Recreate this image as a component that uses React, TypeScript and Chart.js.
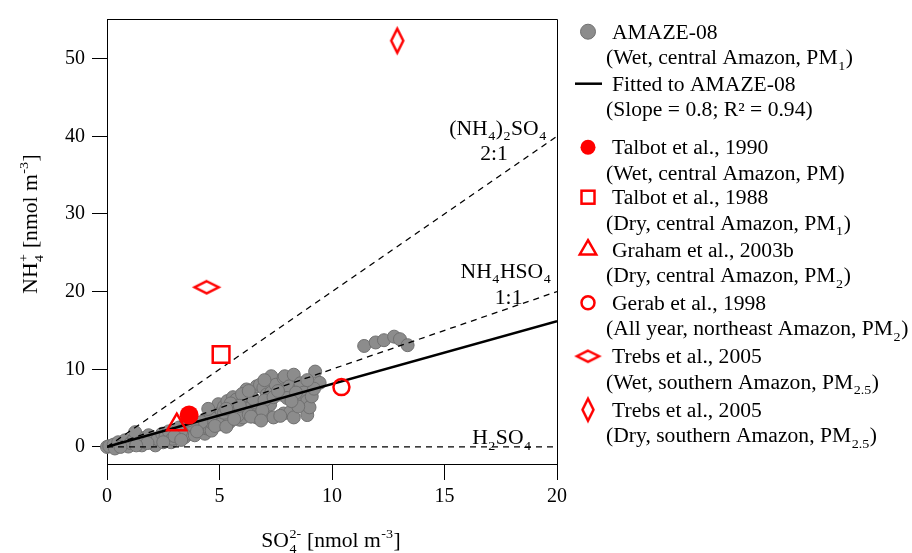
import React, { useEffect, useRef } from "react";
import { Chart, registerables } from "chart.js";

Chart.register(...registerables);

// ---------------- DATA ----------------
const amazeX = [
  0, 0.1, 0.3, 0.35, 0.5, 0.7, 0.8, 0.95, 1.05, 1.2, 1.25, 1.45, 1.55, 1.7, 1.85, 2.0, 2.15, 2.25, 2.45, 2.6,
  2.75, 2.85, 2.9, 3.1, 3.2, 3.45, 3.5, 3.7, 3.9, 3.95, 4.1, 4.35, 4.4, 4.35, 4.55, 4.65, 4.7, 4.8, 4.85, 4.95,
  5.0, 5.0, 5.1, 5.2, 5.35, 5.45, 5.45, 5.5, 5.6, 5.6, 5.75, 5.75, 5.9, 6.05, 6.05, 6.05, 6.15, 6.2, 6.35, 6.4,
  6.65, 6.65, 6.65, 6.65, 6.8, 6.95, 6.95, 7.1, 7.1, 7.25, 7.3, 7.3, 7.4, 7.5, 7.7, 7.85, 7.85, 7.9, 8.1, 8.15,
  8.3, 8.3, 8.55, 8.6, 8.6, 8.75, 8.9, 8.9, 9.0, 9.25, 9.45,
  5.2, 5.8, 6.3, 6.5, 7.0, 7.4, 8.0, 8.4, 6.0, 5.5, 6.9, 7.7, 8.5, 9.1, 9.2, 8.9, 7.0, 6.3, 5.9, 5.3,
  4.6, 4.2, 3.8, 3.3, 3.0, 2.5, 1.8, 1.3, 0.6, 3.3, 4.0, 4.8, 5.3, 6.4, 7.6, 8.2, 5.65, 6.85, 4.5, 3.6,
  11.43, 11.94, 12.31, 12.76, 13.02, 13.36,
];
const amazeY = [
  0, 0.1, 0.3, -0.2, 0.6, 0.2, 0.85, 0.05, 0.5, 1.05, 1.9, 0.55, 0.2, 1.2, 1.5, 0.7, 0.2, 1.0, 1.7, 1.35,
  2.0, 0.6, 1.05, 1.7, 2.5, 1.25, 2.2, 1.7, 1.5, 2.6, 2.75, 1.7, 2.4, 3.4, 2.3, 2.1, 3.0, 3.4, 4.2, 5.5,
  4.0, 2.9, 4.6, 5.2, 5.9, 3.2, 3.8, 4.5, 4.6, 6.4, 5.0, 6.1, 3.5, 3.8, 4.6, 5.9, 5.0, 7.4, 5.0, 6.6,
  3.8, 5.45, 5.7, 7.8, 8.0, 5.2, 7.6, 4.2, 6.75, 5.45, 7.0, 9.1, 3.8, 8.0, 6.75, 4.3, 8.9, 9.1, 7.8, 4.5,
  3.8, 9.3, 7.6, 8.2, 6.5, 7.0, 4.1, 5.9, 5.1, 9.7, 8.25,
  4.4, 4.0, 4.2, 6.2, 6.0, 6.4, 6.3, 7.0, 6.8, 5.6, 4.7, 4.0, 5.2, 6.5, 7.5, 8.6, 8.6, 7.2, 5.3, 4.9,
  3.8, 3.2, 2.8, 2.0, 1.4, 0.6, 0.5, 0.2, 0.0, 0.9, 2.0, 2.7, 2.6, 3.9, 7.2, 5.9, 3.6, 3.4, 4.9, 3.4,
  13.0, 13.45, 13.74, 14.2, 13.87, 13.1,
];

const talbot1990 = { x: [3.65], y: [4.1] };
const talbot1988 = { x: [5.07], y: [11.9] };
const graham2003 = { x: [3.1], y: [2.86] };
const gerab1998 = { x: [10.42], y: [7.7] };
const trebsWet = { x: [4.43], y: [20.56] };
const trebsDry = { x: [12.9], y: [52.3] };

const fitX = [0, 20];
const fitY = [0, 16.2];
const ratio21X = [0, 20];
const ratio21Y = [0, 40];
const ratio11X = [0, 20];
const ratio11Y = [0, 20];
const ratio0X = [0, 20];
const ratio0Y = [0, 0];

const xTicks = [0, 5, 10, 15, 20];
const yTicks = [0, 10, 20, 30, 40, 50];

type Seg = { t?: string; sub?: string; sup?: string };

const legendItems: { marker: string; l1: Seg[]; l2: Seg[] }[] = [
  { marker: "gray", l1: [{ t: "AMAZE-08" }], l2: [{ t: "(Wet, central Amazon, PM" }, { sub: "1" }, { t: ")" }] },
  { marker: "fit", l1: [{ t: "Fitted to AMAZE-08" }], l2: [{ t: "(Slope = 0.8; R² = 0.94)" }] },
  { marker: "dot", l1: [{ t: "Talbot et al., 1990" }], l2: [{ t: "(Wet, central Amazon, PM)" }] },
  { marker: "square", l1: [{ t: "Talbot et al., 1988" }], l2: [{ t: "(Dry, central Amazon, PM" }, { sub: "1" }, { t: ")" }] },
  { marker: "triangle", l1: [{ t: "Graham et al., 2003b" }], l2: [{ t: "(Dry, central Amazon, PM" }, { sub: "2" }, { t: ")" }] },
  { marker: "circle", l1: [{ t: "Gerab et al., 1998" }], l2: [{ t: "(All year, northeast Amazon, PM" }, { sub: "2" }, { t: ")" }] },
  { marker: "diamondWide", l1: [{ t: "Trebs et al., 2005" }], l2: [{ t: "(Wet, southern Amazon, PM" }, { sub: "2.5" }, { t: ")" }] },
  { marker: "diamondTall", l1: [{ t: "Trebs et al., 2005" }], l2: [{ t: "(Dry, southern Amazon, PM" }, { sub: "2.5" }, { t: ")" }] },
];
const legendBaselines = [38.5, 90.5, 154, 204, 256.5, 309.5, 363, 416.5];

const annotations: { segs: Seg[]; x: number; y: number }[] = [
  { segs: [{ t: "(NH" }, { sub: "4" }, { t: ")" }, { sub: "2" }, { t: "SO" }, { sub: "4" }], x: 17.38, y: 40.2 },
  { segs: [{ t: "2:1" }], x: 17.2, y: 36.9 },
  { segs: [{ t: "NH" }, { sub: "4" }, { t: "HSO" }, { sub: "4" }], x: 17.73, y: 21.8 },
  { segs: [{ t: "1:1" }], x: 17.85, y: 18.4 },
  { segs: [{ t: "H" }, { sub: "2" }, { t: "SO" }, { sub: "4" }], x: 17.55, y: 0.35 },
];

const xTitle: Seg[] = [{ t: "SO" }, { sub: "4", sup: "2-" }, { t: " [nmol m" }, { sup: "-3" }, { t: "]" }];
const yTitle: Seg[] = [{ t: "NH" }, { sub: "4", sup: "+" }, { t: " [nmol m" }, { sup: "-3" }, { t: "]" }];

// ---------------- helpers ----------------
const FONT = "'Liberation Serif', 'Times New Roman', serif";
const RED = "#ff0000";
const SX = 1.08;

function font(size: number) {
  return `${size}px ${FONT}`;
}

function segWidth(ctx: CanvasRenderingContext2D, s: Seg, size: number) {
  if (s.t !== undefined) {
    ctx.font = font(size);
    return ctx.measureText(s.t).width;
  }
  const ss = size * 0.65;
  ctx.font = font(ss);
  const a = s.sub ? ctx.measureText(s.sub).width : 0;
  const b = s.sup ? ctx.measureText(s.sup).width : 0;
  return Math.max(a, b) + 1;
}

function richWidth(ctx: CanvasRenderingContext2D, segs: Seg[], size: number) {
  return segs.reduce((w, s) => w + segWidth(ctx, s, size), 0);
}

function drawRich(
  ctx: CanvasRenderingContext2D,
  segs: Seg[],
  x: number,
  y: number,
  size: number,
  align: "left" | "center",
  color = "#000"
) {
  ctx.save();
  ctx.fillStyle = color;
  ctx.textBaseline = "alphabetic";
  ctx.textAlign = "left";
  const w = richWidth(ctx, segs, size) * SX;
  const startX = align === "center" ? x - w / 2 : x;
  ctx.translate(startX, y);
  ctx.scale(SX, 1);
  let cx = 0;
  for (const s of segs) {
    if (s.t !== undefined) {
      ctx.font = font(size);
      ctx.fillText(s.t, cx, 0);
    } else {
      const ss = size * 0.65;
      ctx.font = font(ss);
      if (s.sub) ctx.fillText(s.sub, cx + 0.5, size * 0.28);
      if (s.sup) ctx.fillText(s.sup, cx + 0.5, -size * 0.45);
    }
    cx += segWidth(ctx, s, size);
  }
  ctx.restore();
}

function makeDiamond(w: number, h: number, lw: number, color: string) {
  const c = document.createElement("canvas");
  c.width = Math.ceil(w + lw * 2 + 2);
  c.height = Math.ceil(h + lw * 2 + 2);
  const ctx = c.getContext("2d")!;
  ctx.strokeStyle = color;
  ctx.lineWidth = lw;
  ctx.lineJoin = "miter";
  const cx = c.width / 2;
  const cy = c.height / 2;
  ctx.beginPath();
  ctx.moveTo(cx, cy - h / 2);
  ctx.lineTo(cx + w / 2, cy);
  ctx.lineTo(cx, cy + h / 2);
  ctx.lineTo(cx - w / 2, cy);
  ctx.closePath();
  ctx.stroke();
  return c;
}

function pts(xs: number[], ys: number[]) {
  return xs.map((x, i) => ({ x, y: ys[i] }));
}

function drawLegendMarker(ctx: CanvasRenderingContext2D, kind: string, x: number, y: number, wide: HTMLCanvasElement, tall: HTMLCanvasElement) {
  ctx.save();
  ctx.lineWidth = 2.5;
  ctx.strokeStyle = RED;
  ctx.fillStyle = RED;
  switch (kind) {
    case "gray":
      ctx.beginPath();
      ctx.arc(x, y, 7.5, 0, Math.PI * 2);
      ctx.fillStyle = "#8c8c8c";
      ctx.fill();
      ctx.lineWidth = 1;
      ctx.strokeStyle = "#707070";
      ctx.stroke();
      break;
    case "fit":
      ctx.beginPath();
      ctx.moveTo(x - 13, y);
      ctx.lineTo(x + 14, y);
      ctx.strokeStyle = "#000";
      ctx.lineWidth = 2.5;
      ctx.stroke();
      break;
    case "dot":
      ctx.beginPath();
      ctx.arc(x, y, 7.5, 0, Math.PI * 2);
      ctx.fill();
      break;
    case "square":
      ctx.strokeRect(x - 6.5, y - 6.5, 13, 13);
      break;
    case "triangle": {
      const r = 9.5;
      ctx.beginPath();
      ctx.moveTo(x, y - r);
      ctx.lineTo(x + r * 0.866, y + r / 2);
      ctx.lineTo(x - r * 0.866, y + r / 2);
      ctx.closePath();
      ctx.stroke();
      break;
    }
    case "circle":
      ctx.beginPath();
      ctx.arc(x, y, 6.5, 0, Math.PI * 2);
      ctx.stroke();
      break;
    case "diamondWide":
      ctx.drawImage(wide, x - wide.width / 2, y - wide.height / 2);
      break;
    case "diamondTall":
      ctx.drawImage(tall, x - tall.width / 2, y - tall.height / 2);
      break;
  }
  ctx.restore();
}

export default function App() {
  const ref = useRef<HTMLCanvasElement | null>(null);

  useEffect(() => {
    const canvas = ref.current;
    if (!canvas) return;

    const wideDiamond = makeDiamond(24, 12, 2.5, RED);
    const tallDiamond = makeDiamond(12, 24, 2.5, RED);
    const wideLegend = makeDiamond(22, 11, 2.5, RED);
    const tallLegend = makeDiamond(11, 22, 2.5, RED);

    const decor = {
      id: "decor",
      afterDraw(chart: any) {
        const ctx: CanvasRenderingContext2D = chart.ctx;
        const { left, right, top, bottom } = chart.chartArea;
        const xs = chart.scales.x;
        const ys = chart.scales.y;
        ctx.save();
        ctx.strokeStyle = "#000";
        ctx.lineWidth = 1;
        ctx.beginPath();
        ctx.moveTo(left, top + 0.5);
        ctx.lineTo(right + 0.5, top + 0.5);
        ctx.lineTo(right + 0.5, bottom);
        ctx.stroke();

        for (const a of annotations) {
          drawRich(ctx, a.segs, xs.getPixelForValue(a.x), ys.getPixelForValue(a.y), 20, "center");
        }

        drawRich(ctx, xTitle, 331, 547, 20, "center");

        ctx.save();
        ctx.translate(37, 224);
        ctx.rotate(-Math.PI / 2);
        drawRich(ctx, yTitle, 0, 0, 20, "center");
        ctx.restore();

        legendItems.forEach((it, i) => {
          const b = legendBaselines[i];
          drawLegendMarker(ctx, it.marker, 588, b - 6.8, wideLegend, tallLegend);
          drawRich(ctx, it.l1, 612, b, 20, "left");
          drawRich(ctx, it.l2, 606, b + 25.5, 20, "left");
        });
        ctx.restore();
      },
    };

    const chart = new Chart(canvas, {
      type: "scatter",
      data: {
        datasets: [
          {
            label: "Trebs dry",
            data: pts(trebsDry.x, trebsDry.y),
            pointStyle: tallDiamond as any,
            pointRadius: 12,
            order: 0,
          },
          {
            label: "Trebs wet",
            data: pts(trebsWet.x, trebsWet.y),
            pointStyle: wideDiamond as any,
            pointRadius: 12,
            order: 0,
          },
          {
            label: "Gerab",
            data: pts(gerab1998.x, gerab1998.y),
            pointStyle: "circle",
            pointRadius: 8,
            borderWidth: 2.5,
            borderColor: RED,
            backgroundColor: "rgba(0,0,0,0)",
            order: 0,
          },
          {
            label: "Graham",
            data: pts(graham2003.x, graham2003.y),
            pointStyle: "triangle",
            pointRadius: 11,
            borderWidth: 2.5,
            borderColor: RED,
            backgroundColor: "rgba(0,0,0,0)",
            order: 0,
          },
          {
            label: "Talbot 1988",
            data: pts(talbot1988.x, talbot1988.y),
            pointStyle: "rect",
            pointRadius: 11.8,
            borderWidth: 2.5,
            borderColor: RED,
            backgroundColor: "rgba(0,0,0,0)",
            order: 0,
          },
          {
            label: "Talbot 1990",
            data: pts(talbot1990.x, talbot1990.y),
            pointStyle: "circle",
            pointRadius: 9.5,
            borderWidth: 0,
            borderColor: RED,
            backgroundColor: RED,
            order: 0,
          },
          {
            label: "fit",
            data: pts(fitX, fitY),
            showLine: true,
            pointRadius: 0,
            borderColor: "#000",
            borderWidth: 2.5,
            order: 1,
          },
          {
            label: "2:1",
            data: pts(ratio21X, ratio21Y),
            showLine: true,
            pointRadius: 0,
            borderColor: "#000",
            borderWidth: 1.3,
            borderDash: [6, 5],
            order: 1,
          },
          {
            label: "1:1",
            data: pts(ratio11X, ratio11Y),
            showLine: true,
            pointRadius: 0,
            borderColor: "#000",
            borderWidth: 1.3,
            borderDash: [6, 5],
            order: 1,
          },
          {
            label: "0",
            data: pts(ratio0X, ratio0Y),
            showLine: true,
            pointRadius: 0,
            borderColor: "#000",
            borderWidth: 1.3,
            borderDash: [6, 5],
            order: 1,
          },
          {
            label: "AMAZE-08",
            data: pts(amazeX, amazeY),
            pointStyle: "circle",
            pointRadius: 6.5,
            borderWidth: 1,
            borderColor: "#707070",
            backgroundColor: "#8c8c8c",
            clip: false as any,
            order: 2,
          },
        ],
      },
      options: {
        animation: false,
        responsive: false,
        events: [],
        layout: { padding: { top: 13, right: 355, left: 0, bottom: 0 } },
        plugins: { legend: { display: false }, tooltip: { enabled: false } },
        scales: {
          x: {
            type: "linear",
            min: 0,
            max: 20,
            afterFit: (s: any) => {
              s.height = 89;
            },
            afterBuildTicks: (s: any) => {
              s.ticks = xTicks.map((v) => ({ value: v }));
            },
            border: { display: true, color: "#000", width: 1 },
            grid: { display: true, drawOnChartArea: false, drawTicks: true, tickLength: 16, color: "#000", lineWidth: 1 },
            ticks: { color: "#000", padding: 5, font: { family: "'Liberation Serif'", size: 20 } },
          },
          y: {
            type: "linear",
            min: -2.2,
            max: 55.1,
            afterFit: (s: any) => {
              s.width = 107;
            },
            afterBuildTicks: (s: any) => {
              s.ticks = yTicks.map((v) => ({ value: v }));
            },
            border: { display: true, color: "#000", width: 1 },
            grid: { display: true, drawOnChartArea: false, drawTicks: true, tickLength: 15, color: "#000", lineWidth: 1 },
            ticks: { color: "#000", padding: 7, font: { family: "'Liberation Serif'", size: 20 } },
          },
        },
      },
      plugins: [decor],
    });

    return () => chart.destroy();
  }, []);

  return (
    <div style={{ position: "fixed", left: 0, top: 0, width: 912, height: 553, background: "#fff" }}>
      <canvas ref={ref} width={912} height={553} style={{ display: "block", width: 912, height: 553 }} />
    </div>
  );
}
